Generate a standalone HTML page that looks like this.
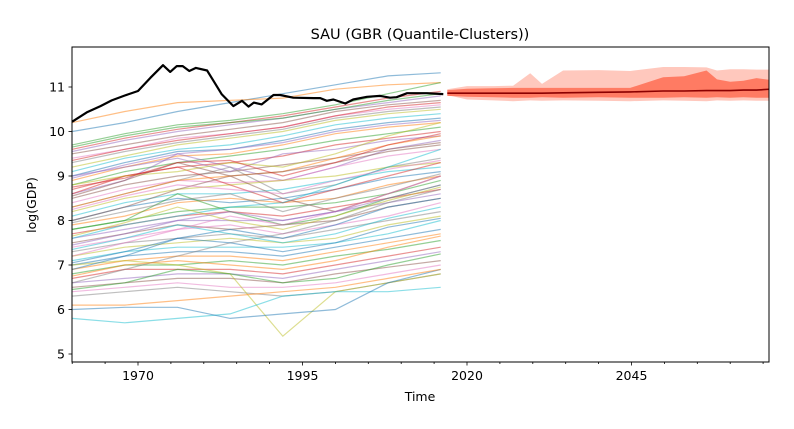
<!DOCTYPE html>
<html><head><meta charset="utf-8">
<style>
body{margin:0;background:#fff;}
svg{display:block;font-family:"DejaVu Sans","Liberation Sans",sans-serif;}
</style></head>
<body>
<svg id="chart" width="794" height="429" viewBox="0 0 794 429" xmlns="http://www.w3.org/2000/svg">
<rect width="794" height="429" fill="#fff"/>
<text x="420" y="39" font-size="14.5" text-anchor="middle">SAU (GBR (Quantile-Clusters))</text>
<text x="420" y="401" font-size="12.5" text-anchor="middle">Time</text>
<text transform="translate(36,205) rotate(-90)" font-size="12.5" text-anchor="middle">log(GDP)</text>
<defs><clipPath id="clip"><rect x="72" y="47" width="697" height="315"/></clipPath></defs>
<g id="bg" clip-path="url(#clip)"></g>
<g id="axes"></g>
</svg>
<script>
const histYears = [1960,1968,1976,1984,1992,2000,2008,2016];
const peerSeries = [
[10.0,10.2,10.45,10.65,10.85,11.05,11.25,11.32],
[10.2,10.45,10.65,10.7,10.75,10.95,11.05,11.1],
[9.7,9.95,10.15,10.25,10.4,10.6,10.85,11.1],
[9.6,9.85,10.05,10.2,10.35,10.55,10.75,10.9],
[9.55,9.8,10.0,10.15,10.3,10.5,10.65,10.8],
[9.5,9.7,9.9,10.05,10.2,10.45,10.6,10.7],
[9.4,9.6,9.85,9.95,10.1,10.35,10.5,10.6],
[9.3,9.55,9.75,9.9,10.05,10.3,10.45,10.55],
[9.2,9.45,9.7,9.85,10.0,10.25,10.4,10.5],
[9.1,9.4,9.6,9.7,9.9,10.15,10.3,10.4],
[9.0,9.3,9.55,9.6,9.8,10.05,10.2,10.3],
[8.9,9.2,9.45,9.5,9.7,9.95,10.1,10.2],
[8.8,9.1,9.3,9.45,9.6,9.8,9.95,10.1],
[8.7,9.0,9.2,9.3,9.45,9.7,9.85,10.0],
[8.6,8.9,9.5,9.2,8.9,9.2,9.6,9.8],
[8.5,8.8,9.0,9.1,9.25,9.4,9.6,9.75],
[8.4,8.7,8.9,8.85,8.9,9.2,9.45,9.6],
[8.3,8.6,8.9,9.2,8.6,8.8,9.2,9.4],
[8.2,8.5,8.7,8.8,8.9,9.0,9.2,9.3],
[8.1,8.4,8.6,8.6,8.7,8.9,9.1,9.2],
[8.0,8.3,8.5,8.4,8.5,8.7,8.95,9.1],
[7.9,8.1,8.4,8.5,8.4,8.5,8.8,9.0],
[7.8,8.0,8.2,8.3,8.3,8.4,8.6,8.9],
[7.7,7.9,8.1,8.2,8.1,8.3,8.5,8.7],
[7.6,7.8,8.0,8.0,8.0,8.2,8.4,8.6],
[7.5,7.7,7.9,7.8,7.9,8.0,8.3,8.5],
[7.4,7.6,7.8,7.9,7.7,7.9,8.1,8.4],
[7.3,7.5,7.6,7.7,7.6,7.8,8.0,8.2],
[7.2,7.4,7.5,7.6,7.5,7.6,7.9,8.1],
[7.1,7.3,7.4,7.4,7.4,7.5,7.7,8.0],
[7.0,7.2,7.3,7.3,7.2,7.4,7.6,7.8],
[6.9,7.1,7.2,7.2,7.1,7.3,7.5,7.7],
[6.8,7.0,7.0,7.1,7.0,7.2,7.35,7.55],
[6.7,6.9,6.9,6.9,6.8,7.0,7.2,7.4],
[6.6,6.7,6.8,6.8,6.7,6.9,7.1,7.3],
[6.5,6.6,6.7,6.7,6.6,6.8,6.95,7.1],
[6.4,6.5,6.6,6.5,6.5,6.6,6.8,7.0],
[6.3,6.4,6.5,6.4,6.3,6.4,6.6,6.8],
[7.0,7.1,7.0,6.8,5.4,6.4,6.6,6.8],
[5.8,5.7,5.8,5.9,6.3,6.4,6.4,6.5],
[6.0,6.05,6.05,5.8,5.9,6.0,6.6,6.9],
[6.1,6.1,6.2,6.3,6.4,6.5,6.7,6.9],
[7.8,8.0,8.6,8.2,7.9,8.1,8.5,8.8],
[8.6,9.0,9.2,8.8,8.4,8.7,9.0,9.3],
[9.0,9.2,9.4,9.1,9.5,9.6,9.8,9.9],
[8.0,8.3,8.7,9.0,8.5,8.2,8.6,9.0],
[7.2,7.5,7.8,8.1,7.9,8.2,8.6,9.0],
[6.6,6.9,7.2,7.5,7.7,8.0,8.4,8.7],
[8.8,9.0,9.1,9.3,9.2,9.5,9.9,10.2],
[7.6,7.9,8.1,8.3,8.4,8.8,9.2,9.6],
[6.9,7.2,7.6,7.8,7.6,7.9,8.3,8.5],
[8.3,8.6,8.9,9.0,9.1,9.4,9.7,9.9],
[9.65,9.9,10.1,10.2,10.3,10.5,10.7,10.85],
[9.35,9.6,9.8,9.95,10.1,10.35,10.55,10.65],
[8.95,9.25,9.5,9.6,9.75,10.0,10.15,10.25],
[8.55,8.9,9.3,9.0,9.1,9.3,9.55,9.7],
[8.25,8.55,8.8,8.7,8.6,8.9,9.15,9.35],
[7.95,8.2,8.45,8.6,8.2,8.5,8.75,9.05],
[7.65,7.95,8.3,8.0,7.8,8.1,8.45,8.75],
[7.35,7.6,7.9,7.7,7.5,7.7,8.05,8.3],
[7.05,7.3,7.6,7.5,7.3,7.5,7.85,8.05],
[6.75,7.0,7.1,7.0,6.9,7.1,7.4,7.65],
[6.45,6.6,6.9,6.8,6.6,6.7,7.0,7.25],
[8.75,8.95,9.3,9.35,9.0,9.3,9.7,9.95],
[7.45,7.7,8.0,8.2,8.0,8.2,8.5,8.8]
];
const sauYears = [1960,1962.2,1964.3,1966,1968,1970,1971.9,1973.8,1974.9,1975.9,1976.8,1977.8,1978.8,1980.5,1981.5,1982.7,1984.5,1985.8,1986.8,1987.6,1988.8,1990.6,1991.6,1993.6,1996.7,1997.7,1998.7,1999.7,2001.5,2002.7,2004.8,2006.8,2008.3,2009.3,2010.9,2013.9,2016.4];
const sauValues = [10.22,10.43,10.57,10.7,10.81,10.91,11.21,11.49,11.34,11.47,11.47,11.36,11.43,11.37,11.13,10.84,10.57,10.69,10.56,10.65,10.61,10.82,10.82,10.76,10.75,10.75,10.69,10.72,10.63,10.72,10.78,10.8,10.76,10.77,10.86,10.86,10.84];
const fcYears = [2017,2020,2024,2027,2029.6,2031.4,2034.6,2040,2044.8,2049.8,2053,2056.4,2058,2060,2062,2064,2066];
const fcOuterHi = [10.95,11.02,11.02,11.03,11.31,11.07,11.37,11.38,11.36,11.45,11.45,11.44,11.37,11.4,11.4,11.39,11.39];
const fcInnerHi = [10.93,10.96,10.97,10.98,10.98,10.98,10.98,10.98,10.98,11.22,11.24,11.37,11.17,11.12,11.14,11.2,11.16];
const fcInnerLo = [10.8,10.78,10.77,10.76,10.76,10.77,10.76,10.77,10.76,10.76,10.77,10.76,10.77,10.76,10.77,10.76,10.76];
const fcOuterLo = [10.82,10.72,10.7,10.68,10.7,10.69,10.7,10.69,10.68,10.7,10.69,10.68,10.7,10.69,10.7,10.69,10.69];
const fcMedian = [10.86,10.86,10.86,10.86,10.86,10.86,10.87,10.88,10.89,10.91,10.91,10.92,10.92,10.92,10.93,10.93,10.95];
const xTickYears = [1970,1995,2020,2045];
const yTicks = [5,6,7,8,9,10,11];

const NS="http://www.w3.org/2000/svg";
const L=72,R=769,T=47,B=362;
const x=yr=>138+(yr-1970)*6.58;
const y=v=>354-(v-5)*44.5;
const colors=["#1f77b4","#ff7f0e","#2ca02c","#d62728","#9467bd","#8c564b","#e377c2","#7f7f7f","#bcbd22","#17becf"];
const bg=document.getElementById('bg'), ax=document.getElementById('axes');
function mk(tag,attrs,parent){const e=document.createElementNS(NS,tag);for(const k in attrs)e.setAttribute(k,attrs[k]);parent.appendChild(e);return e;}
function pts(xs,vs){return xs.map((t,i)=>x(t).toFixed(1)+','+y(vs[i]).toFixed(1)).join(' ');}

peerSeries.forEach((s,i)=>{
  const p=mk('polyline',{points:pts(histYears,s),fill:'none',stroke:colors[i%10],'stroke-width':1.2,'stroke-opacity':0.5},bg);
  
  
});
const outer=mk('polygon',{points:pts(fcYears,fcOuterHi)+' '+pts(fcYears.slice().reverse(),fcOuterLo.slice().reverse()),fill:'#ffc8bd'},bg);


const inner=mk('polygon',{points:pts(fcYears,fcInnerHi)+' '+pts(fcYears.slice().reverse(),fcInnerLo.slice().reverse()),fill:'#ff7b63'},bg);


const med=mk('polyline',{points:pts(fcYears,fcMedian),fill:'none',stroke:'#8b0000','stroke-width':1.6},bg);


const sau=mk('polyline',{points:pts(sauYears,sauValues),fill:'none',stroke:'#000','stroke-width':2.2,'stroke-linejoin':'round'},bg);



const frame=mk('rect',{x:L,y:T,width:R-L,height:B-T,fill:'none',stroke:'#000','stroke-width':1},ax);


for(let yr=1960;yr<=2066;yr+=5){
  const major=xTickYears.includes(yr);
  const t=mk('line',{x1:x(yr),x2:x(yr),y1:B,y2:B+(major?3.5:2),stroke:'#000','stroke-width':0.8},ax);
  
  
}
xTickYears.forEach(yr=>{
  const t=mk('text',{x:x(yr),y:B+18,'font-size':12.5,'text-anchor':'middle'},ax);t.textContent=yr;
  
  
});
yTicks.forEach(v=>{
  const l=mk('line',{x1:L-3.5,x2:L,y1:y(v),y2:y(v),stroke:'#000','stroke-width':0.8},ax);
  
  
  const t=mk('text',{x:L-7,y:y(v)+4.5,'font-size':12.5,'text-anchor':'end'},ax);t.textContent=v;
  
  
});
</script>
</body></html>
